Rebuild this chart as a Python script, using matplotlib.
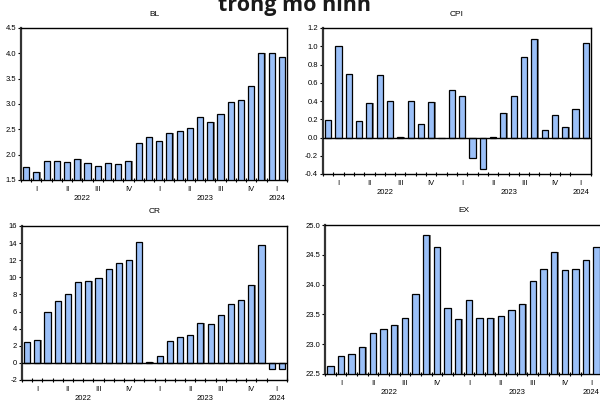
import matplotlib.pyplot as plt
from matplotlib.transforms import blended_transform_factory
import numpy as np

# Monthly series, Jan 2022 - Feb 2024
bl = [1.76, 1.65, 1.87, 1.87, 1.85, 1.91, 1.83, 1.77, 1.83, 1.81, 1.87, 2.23, 2.34,
      2.27, 2.42, 2.47, 2.52, 2.75, 2.64, 2.80, 3.03, 3.07, 3.35, 4.00, 4.00, 3.92]
cpi = [0.19, 1.00, 0.70, 0.18, 0.38, 0.69, 0.40, 0.01, 0.40, 0.15, 0.39, -0.01, 0.52,
       0.45, -0.23, -0.34, 0.01, 0.27, 0.45, 0.88, 1.08, 0.08, 0.25, 0.12, 0.31, 1.04]
cr = [2.46, 2.62, 5.95, 7.24, 8.06, 9.47, 9.55, 9.94, 11.03, 11.62, 11.97, 14.16, 0.08,
      0.82, 2.58, 3.01, 3.25, 4.69, 4.54, 5.56, 6.92, 7.36, 9.15, 13.77, -0.67, -0.74]
ex = [22.63, 22.80, 22.83, 22.95, 23.18, 23.25, 23.33, 23.44, 23.84, 24.84, 24.63, 23.60, 23.43,
      23.74, 23.44, 23.44, 23.48, 23.57, 23.67, 24.06, 24.27, 24.55, 24.25, 24.26, 24.41, 24.63]

quarters = ['I', 'II', 'III', 'IV', 'I', 'II', 'III', 'IV', 'I']
quarter_pos = [1, 4, 7, 10, 13, 16, 19, 22, 24.5]
years = ['2022', '2023', '2024']
year_pos = [5.5, 17.5, 24.5]

plt.rcParams['font.family'] = ['Liberation Sans', 'DejaVu Sans']

bar_color = '#9BC0F8'
W, H = 600, 405


def px_axes(fig, left, top, right, bottom):
    return fig.add_axes([left / W, 1 - bottom / H, (right - left) / W, (bottom - top) / H])


def panel(ax, title, values, ylim, yticks, fmt, base=None):
    x = np.arange(len(values))
    vals = np.array(values)
    if base is None:
        heights, bottom = vals, 0
    else:
        heights, bottom = vals - base, base
    # grey drop shadow, then the bar itself
    ax.bar(x + 0.12, heights, bottom=bottom, width=0.6, color='#808080', zorder=2)
    ax.bar(x, heights, bottom=bottom, width=0.6, color=bar_color,
           edgecolor='black', linewidth=0.9, zorder=3)
    if base is None:
        ax.axhline(0, color='black', linewidth=1.0, zorder=4)
    ax.set_xlim(-0.5, len(values) - 0.5)
    ax.set_ylim(*ylim)
    ax.set_yticks(yticks)
    ax.set_yticklabels([fmt.format(v) for v in yticks], fontsize=5.5)
    ax.tick_params(axis='y', direction='out', length=2, width=0.8, pad=1.5)
    # month boundaries as tick marks, quarter names in between
    ax.set_xticks(np.arange(-0.5, len(values), 1.0), minor=True)
    ax.set_xticks(quarter_pos)
    ax.set_xticklabels(quarters, fontsize=5.5)
    ax.tick_params(axis='x', which='major', length=0, pad=4)
    ax.tick_params(axis='x', which='minor', direction='inout', length=3, width=0.8)
    for sp in ax.spines.values():
        sp.set_linewidth(1.0)
    ax.spines['left'].set_linewidth(1.6)
    ax.spines['left'].set_color('#333333')
    trans = blended_transform_factory(ax.transData, ax.transAxes)
    for yr, pos in zip(years, year_pos):
        ax.annotate(yr, (pos, 0), xycoords=trans, xytext=(0, -10.5),
                    textcoords='offset points', ha='center', va='top', fontsize=5.5,
                    annotation_clip=False)
    ax.set_title(title, fontsize=6, pad=9)


fig = plt.figure(figsize=(6, 4.05), dpi=100)

ax_bl = px_axes(fig, 21, 28, 287, 180)
panel(ax_bl, 'BL', bl, (1.5, 4.5), np.arange(1.5, 4.51, 0.5), '{:.1f}', base=1.5)

ax_cpi = px_axes(fig, 323, 28, 591, 174)
panel(ax_cpi, 'CPI', cpi, (-0.4, 1.2), np.arange(-0.4, 1.21, 0.2), '{:.1f}')

ax_cr = px_axes(fig, 22, 226, 287, 380)
panel(ax_cr, 'CR', cr, (-2, 16), np.arange(-2, 17, 2), '{:.0f}')

ax_ex = px_axes(fig, 325, 225, 602, 374)
panel(ax_ex, 'EX', ex, (22.5, 25.0), np.arange(22.5, 25.01, 0.5), '{:.1f}', base=22.5)

fig.text(295 / W, 1 - 11 / H, 'trong mô hình', ha='center', va='baseline',
         fontsize=15.5, fontweight='bold', family=['Open Sans', 'DejaVu Sans'], color='#1a1a1a')

fig.savefig('out.png', dpi=100)
